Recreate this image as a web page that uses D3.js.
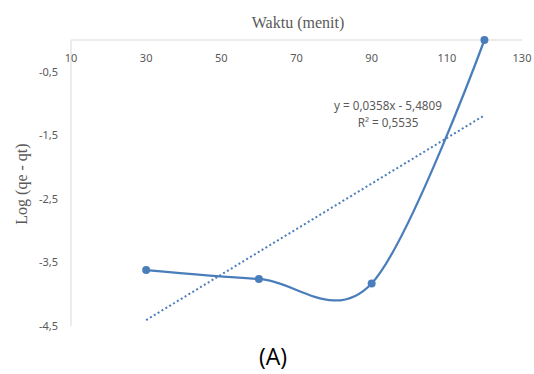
<!doctype html>
<html>

<head>
    <meta charset="utf-8">
    <script src="https://d3js.org/d3.v7.min.js"></script>
    <style>
        body {
            margin: 0;
            background: #fff;
        }

        .tick-label {
            font-family: 'Noto Sans';
            font-size: 11px;
            fill: #595959;
        }

        .eq-label {
            font-family: 'Noto Sans';
            font-size: 11.7px;
            fill: #595959;
        }

        .axis-title {
            font-family: 'Liberation Serif';
            font-size: 16px;
            fill: #595959;
        }
    </style>
</head>

<body>
    <div id="graph"></div>
    <script>
        // waktu (menit)
        const xValues = [30, 60, 90, 120]
        // log (qe - qt)
        const yValues = [-3.62, -3.76, -3.83, 0.0]
        const xTicks = [10, 30, 50, 70, 90, 110, 130]
        const yTicks = [-0.5, -1.5, -2.5, -3.5, -4.5]
        const trendSlope = 0.0358
        const trendIntercept = -5.4809
        const trendR2 = 0.5535

        const fmt = (v) => String(v).replace('.', ',')
        const blue = '#4a7ebb'

        const svg = d3.select('#graph')
            .append('svg')
            .attr('width', 534)
            .attr('height', 374)

        const xScale = d3.scaleLinear()
            .domain([10, 130])
            .range([71, 522])

        const yScale = d3.scaleLinear()
            .domain([-4.5, 0])
            .range([326, 40])

        // axis lines (x axis sits on top, crossing at 0)
        svg.append('line')
            .attr('x1', xScale(10)).attr('x2', xScale(130))
            .attr('y1', yScale(0)).attr('y2', yScale(0))
            .attr('stroke', '#d9d9d9')
        svg.append('line')
            .attr('x1', xScale(10)).attr('x2', xScale(10))
            .attr('y1', yScale(0)).attr('y2', yScale(-4.5))
            .attr('stroke', '#d9d9d9')

        svg.selectAll('.xtick')
            .data(xTicks)
            .enter()
            .append('text')
            .attr('class', 'tick-label xtick')
            .attr('x', (d) => xScale(d))
            .attr('y', yScale(0) + 22)
            .attr('text-anchor', 'middle')
            .text((d) => d)

        svg.selectAll('.ytick')
            .data(yTicks)
            .enter()
            .append('text')
            .attr('class', 'tick-label ytick')
            .attr('x', xScale(10) - 13)
            .attr('y', (d) => yScale(d) + 4)
            .attr('text-anchor', 'end')
            .text((d) => fmt(d))

        svg.append('text')
            .attr('class', 'axis-title')
            .attr('x', 298)
            .attr('y', 28)
            .attr('text-anchor', 'middle')
            .text('Waktu (menit)')

        svg.append('text')
            .attr('class', 'axis-title')
            .attr('transform', 'translate(27,184) rotate(-90)')
            .attr('text-anchor', 'middle')
            .text('Log (qe - qt)')

        const points = xValues.map((x, i) => [x, yValues[i]])

        // linear trendline over the data range
        const xExt = d3.extent(xValues)
        svg.append('line')
            .attr('x1', xScale(xExt[0]))
            .attr('y1', yScale(trendSlope * xExt[0] + trendIntercept))
            .attr('x2', xScale(xExt[1]))
            .attr('y2', yScale(trendSlope * xExt[1] + trendIntercept))
            .attr('stroke', blue)
            .attr('stroke-width', 2)
            .attr('stroke-dasharray', '2,2.5')

        const line = d3.line()
            .x((d) => xScale(d[0]))
            .y((d) => yScale(d[1]))
            .curve(d3.curveCardinal.tension(0))

        svg.append('path')
            .datum(points)
            .attr('d', line)
            .attr('fill', 'none')
            .attr('stroke', blue)
            .attr('stroke-width', 2.25)

        svg.selectAll('.dot')
            .data(points)
            .enter()
            .append('circle')
            .attr('class', 'dot')
            .attr('cx', (d) => xScale(d[0]))
            .attr('cy', (d) => yScale(d[1]))
            .attr('r', 4)
            .attr('fill', blue)

        svg.append('text')
            .attr('class', 'eq-label')
            .attr('x', 388)
            .attr('y', 110)
            .attr('text-anchor', 'middle')
            .text(`y = ${fmt(trendSlope)}x - ${fmt(-trendIntercept)}`)

        svg.append('text')
            .attr('class', 'eq-label')
            .attr('x', 388)
            .attr('y', 127)
            .attr('text-anchor', 'middle')
            .text(`R² = ${fmt(trendR2)}`)

        svg.append('text')
            .attr('x', 273)
            .attr('y', 365)
            .attr('text-anchor', 'middle')
            .style('font-family', 'Open Sans')
            .style('font-size', '23px')
            .style('fill', '#000')
            .text('(A)')
    </script>
</body>

</html>
